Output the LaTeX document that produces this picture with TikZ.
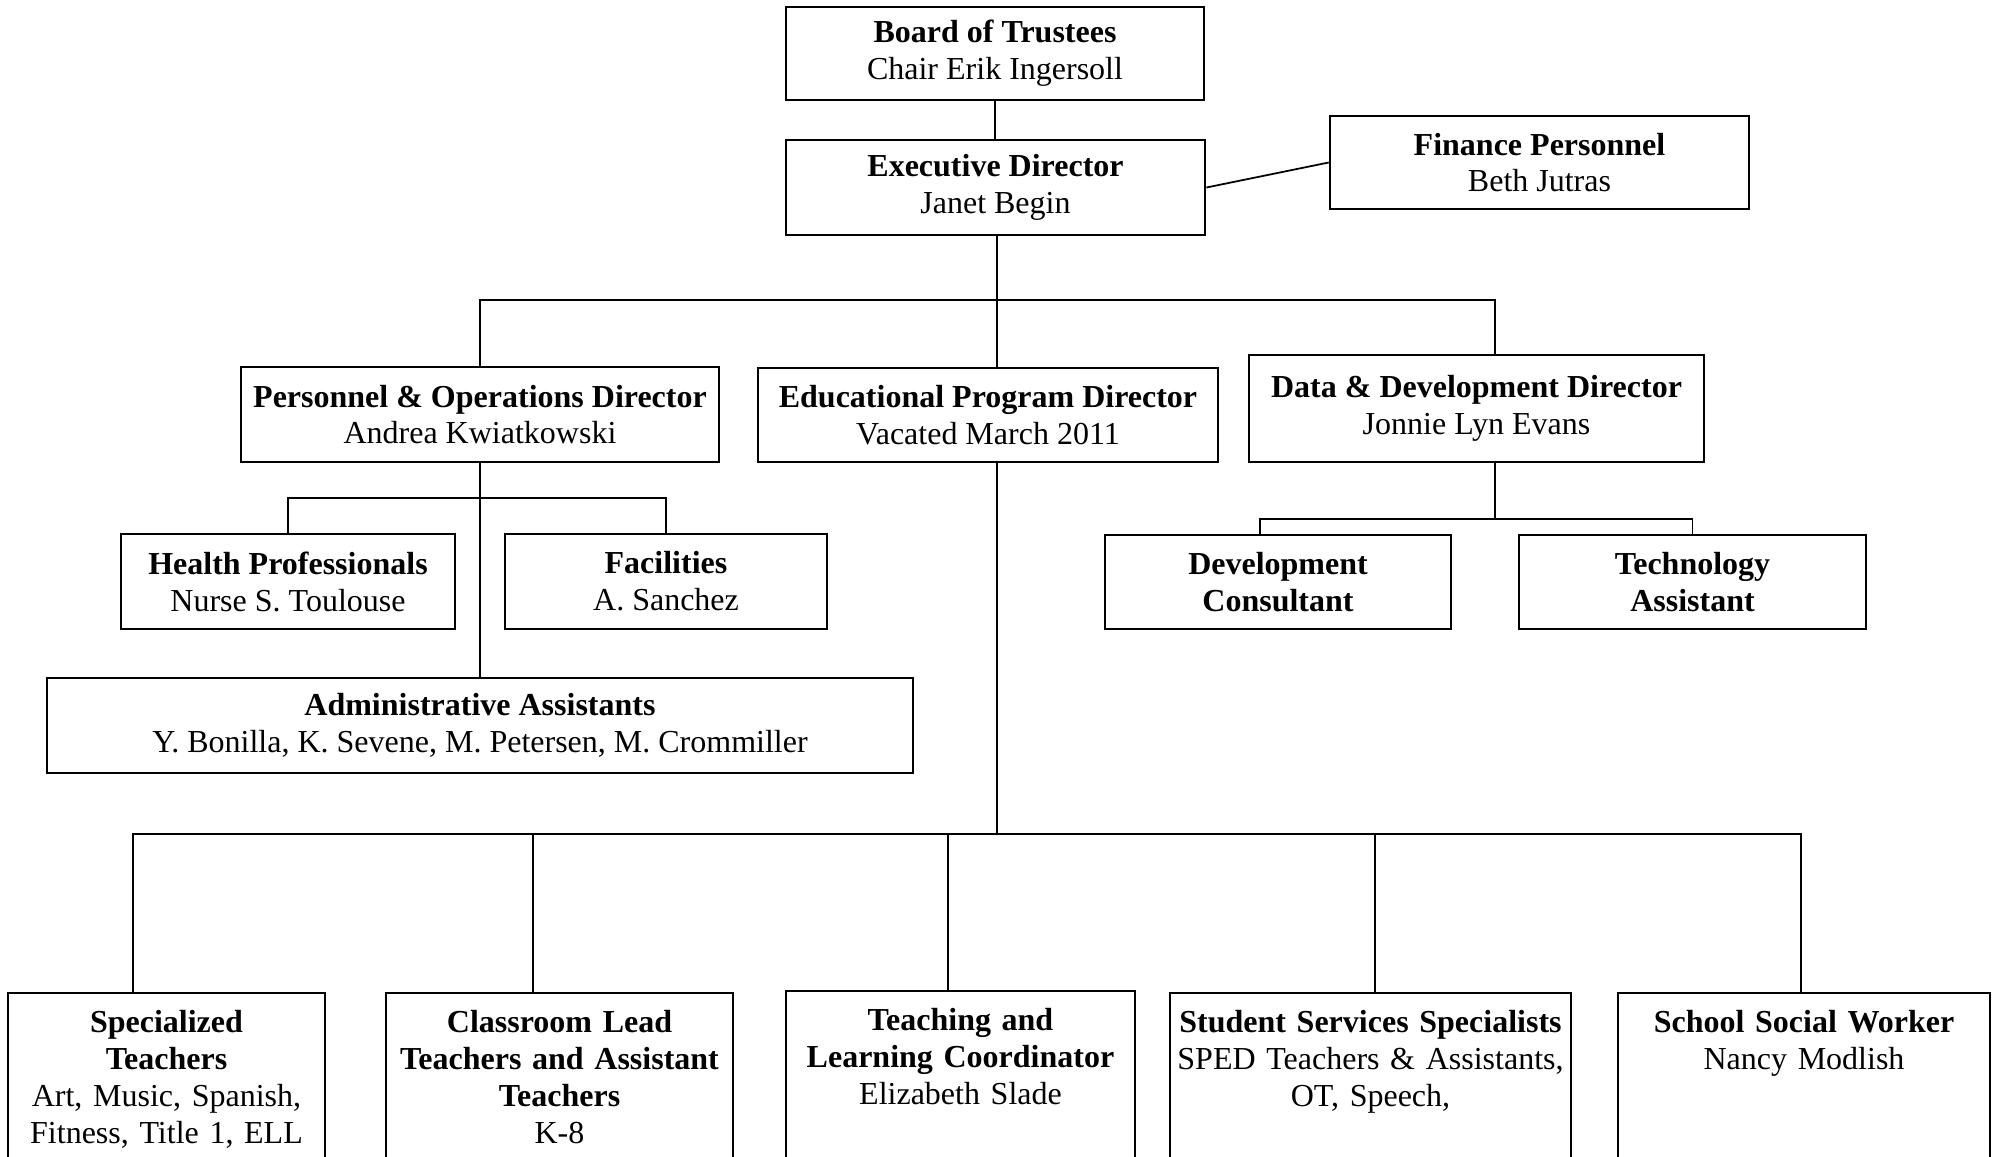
\documentclass[tikz,border=0pt]{standalone}
\usepackage{fontspec}
\setmainfont{Liberation Serif}

\begin{document}
\begin{tikzpicture}[x=0.01cm,y=-0.01cm,
  font=\fontsize{9.1}{10.5}\selectfont,
  orgbox/.style={draw,line width=0.7pt,align=center,inner sep=2pt},
  lowbox/.style={draw,line width=0.7pt,anchor=north,align=center,inner xsep=0pt,inner ysep=4.9pt,text width=#1,text depth=2.5cm},
  link/.style={line width=0.5pt}]
\useasboundingbox (0,0) rectangle (1997,1156);
\clip (0,0) rectangle (1997,1156);

\node[orgbox,minimum width=4.18cm,minimum height=0.93cm] (board) at (995,53.5) {\textbf{Board of Trustees}\\Chair Erik Ingersoll};
\node[orgbox,minimum width=4.19cm,minimum height=0.95cm] (exec) at (995.5,187.5) {\textbf{Executive Director}\\Janet Begin};
\node[orgbox,minimum width=4.19cm,minimum height=0.93cm] (finance) at (1539.5,162.5) {\textbf{Finance Personnel}\\Beth Jutras};

\node[orgbox,minimum width=4.78cm,minimum height=0.95cm] (pers) at (480,414.5) {\textbf{Personnel \& Operations Director}\\Andrea Kwiatkowski};
\node[orgbox,minimum width=4.60cm,minimum height=0.94cm] (edu) at (988,415) {\textbf{Educational Program Director}\\Vacated March 2011};
\node[orgbox,minimum width=4.55cm,minimum height=1.07cm] (data) at (1476.5,408.5) {\textbf{Data \& Development Director}\\Jonnie Lyn Evans};

\node[orgbox,minimum width=3.34cm,minimum height=0.95cm] (health) at (288,581.5) {\textbf{Health Professionals}\\Nurse S. Toulouse};
\node[orgbox,minimum width=3.22cm,minimum height=0.95cm] (fac) at (666,581.5) {\textbf{Facilities}\\A. Sanchez};
\node[orgbox,minimum width=8.66cm,minimum height=0.95cm] (admin) at (480,725.5) {\textbf{Administrative Assistants}\\Y. Bonilla, K. Sevene, M. Petersen, M. Crommiller};
\node[orgbox,minimum width=3.46cm,minimum height=0.94cm] (dev) at (1278,582) {\textbf{Development}\\\textbf{Consultant}};
\node[orgbox,minimum width=3.47cm,minimum height=0.94cm] (tech) at (1692.5,582) {\textbf{Technology}\\\textbf{Assistant}};

\node[lowbox=3.17cm] (spec) at (166.5,992) {\textbf{Specialized}\\\textbf{Teachers}\\Art, Music, Spanish,\\Fitness, Title 1, ELL};
\node[lowbox=3.47cm] (class) at (559.5,992) {\textbf{Classroom Lead}\\\textbf{Teachers and Assistant}\\\textbf{Teachers}\\K-8};
\node[lowbox=3.49cm] (teach) at (960.5,990) {\textbf{Teaching and}\\\textbf{Learning Coordinator}\\Elizabeth Slade};
\node[lowbox=4.01cm] (stud) at (1370.5,992) {\textbf{Student Services Specialists}\\SPED Teachers \& Assistants,\\OT, Speech,};
\node[lowbox=3.72cm] (social) at (1804,992) {\textbf{School Social Worker}\\Nancy Modlish};

\coordinate (hub) at (997,300);
\coordinate (phub) at (480,498);
\coordinate (dhub) at (1495,519);
\coordinate (ehub) at (997,834);

\draw[link] (board.south) -- (board.south |- exec.north);
\draw[link] (exec.east) -- (finance.west);
\draw[link] (exec.south -| hub) -- (hub |- edu.north);
\draw[link] (pers.north) |- (hub) -| ([xshift=0.185cm]data.north);
\draw[link] (pers.south) -- (admin.north);
\draw[link] (health.north) |- (phub) -| (fac.north);
\draw[link] (data.south -| dhub) -- (dhub);
\draw[link] ([xshift=-0.18cm]dev.north) |- (dhub) -| (tech.north);
\draw[link] (edu.south -| ehub) -- (ehub);
\draw[link] ([xshift=-0.335cm]spec.north) |- (ehub) -| ([xshift=-0.03cm]social.north);
\foreach \n/\dx in {class/-0.265,teach/-0.125,stud/0.045}
  \draw[link] ([xshift=\dx cm]\n.north) |- (ehub);
\end{tikzpicture}
\end{document}
